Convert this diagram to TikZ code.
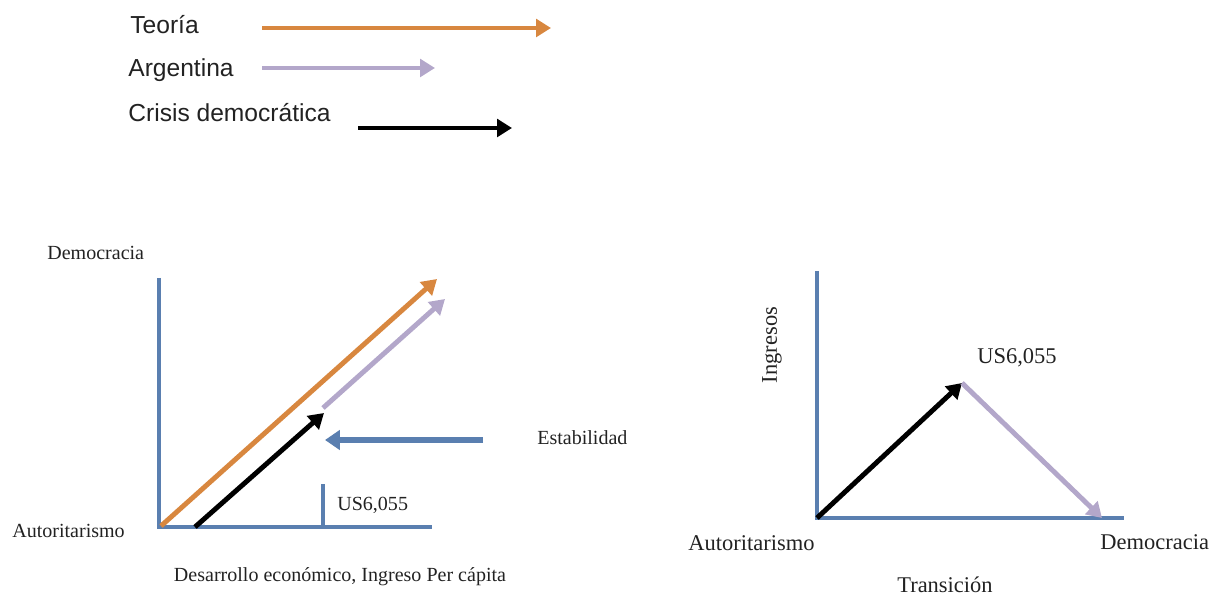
\documentclass[tikz,border=0pt]{standalone}
\usepackage{fontspec}
\setmainfont{Liberation Serif}
\newfontfamily\legendfont{Liberation Sans}
\usetikzlibrary{arrows.meta}
\definecolor{teoria}{HTML}{D8873F}
\definecolor{argen}{HTML}{B3A7CA}
\definecolor{axisblue}{HTML}{5A7FB0}
\definecolor{txt}{HTML}{222222}
\tikzset{
  legtxt/.style={font=\legendfont\fontsize{14pt}{16pt}\selectfont, text=txt, inner sep=0pt, anchor=west},
  smalltxt/.style={font=\fontsize{11.4pt}{13pt}\selectfont, text=txt, inner sep=0pt},
  bigtxt/.style={font=\fontsize{12.8pt}{15pt}\selectfont, text=txt, inner sep=0pt},
  axisline/.style={draw=axisblue, line width=2.2pt},
  arr/.style={line width=2.8pt, -{Triangle[length=8.5pt,width=10pt]}},
  teoarr/.style={arr, draw=teoria},
  argarr/.style={arr, draw=argen},
  criarr/.style={arr, draw=black},
  estarr/.style={line width=3.2pt, draw=axisblue, -{Triangle[length=8.5pt,width=11pt]}},
}
\begin{document}
\begin{tikzpicture}[x=0.02cm, y=-0.02cm]
\useasboundingbox (0,0) rectangle (1225,597);
% legend
\node[legtxt] (lt) at (130,25) {Teoría};
\node[legtxt] (la) at (128,70) {Argentina};
\node[legtxt] (lc) at (128,113) {Crisis democrática};
\coordinate (lt1) at (262,28); \coordinate (lt2) at (551,28);
\coordinate (la1) at (262,68); \coordinate (la2) at (435,68);
\coordinate (lc1) at (358,128); \coordinate (lc2) at (512,128);
\draw[teoarr] (lt1) -- (lt2);
\draw[argarr] (la1) -- (la2);
\draw[criarr] (lc1) -- (lc2);
% left chart
\coordinate (O) at (159,527);
\coordinate (Ytop) at (159,278);
\coordinate (Xend) at (432,527);
\coordinate (tickb) at (323,527);
\coordinate (tickt) at (323,484);
\draw[axisline] (Ytop) -- (O) -- (Xend);
\draw[axisline] (tickb) -- (tickt);
\coordinate (to1) at (161,526); \coordinate (to2) at (437,279);
\coordinate (ar1) at (323,408); \coordinate (ar2) at (445,299);
\coordinate (cr1) at (195,527); \coordinate (cr2) at (324,413);
\coordinate (es1) at (483,440); \coordinate (es2) at (325,440);
\draw[teoarr] (to1) -- (to2);
\draw[argarr] (ar1) -- (ar2);
\draw[criarr] (cr1) -- (cr2);
\draw[estarr] (es1) -- (es2);
\node[smalltxt, anchor=west] (ldem) at (47,253) {Democracia};
\node[smalltxt, anchor=west] (laut) at (12,531) {Autoritarismo};
\node[smalltxt] (ldes) at (340,577) {Desarrollo económico, Ingreso Per cápita};
\node[smalltxt, anchor=west] (lus) at (337,505) {US6,055};
\node[smalltxt, anchor=west] (lest) at (537,438) {Estabilidad};
% right chart
\coordinate (R) at (817,518);
\coordinate (RYtop) at (817,271);
\coordinate (RXend) at (1124,518);
\draw[axisline] (RYtop) -- (R) -- (RXend);
\coordinate (peak) at (962,383);
\coordinate (rdem) at (1102,518);
\draw[criarr] (R) -- (peak);
\draw[argarr] (peak) -- (rdem);
\node[bigtxt, anchor=west] (raut) at (688,543) {Autoritarismo};
\node[bigtxt, anchor=west] (rdemt) at (1100,542) {Democracia};
\node[bigtxt, anchor=west] (rus) at (977,358) {US6,055};
\node[bigtxt] (rtra) at (945,585) {Transición};
\node[bigtxt, rotate=90] (ring) at (772,345) {Ingresos};
\end{tikzpicture}
\end{document}
